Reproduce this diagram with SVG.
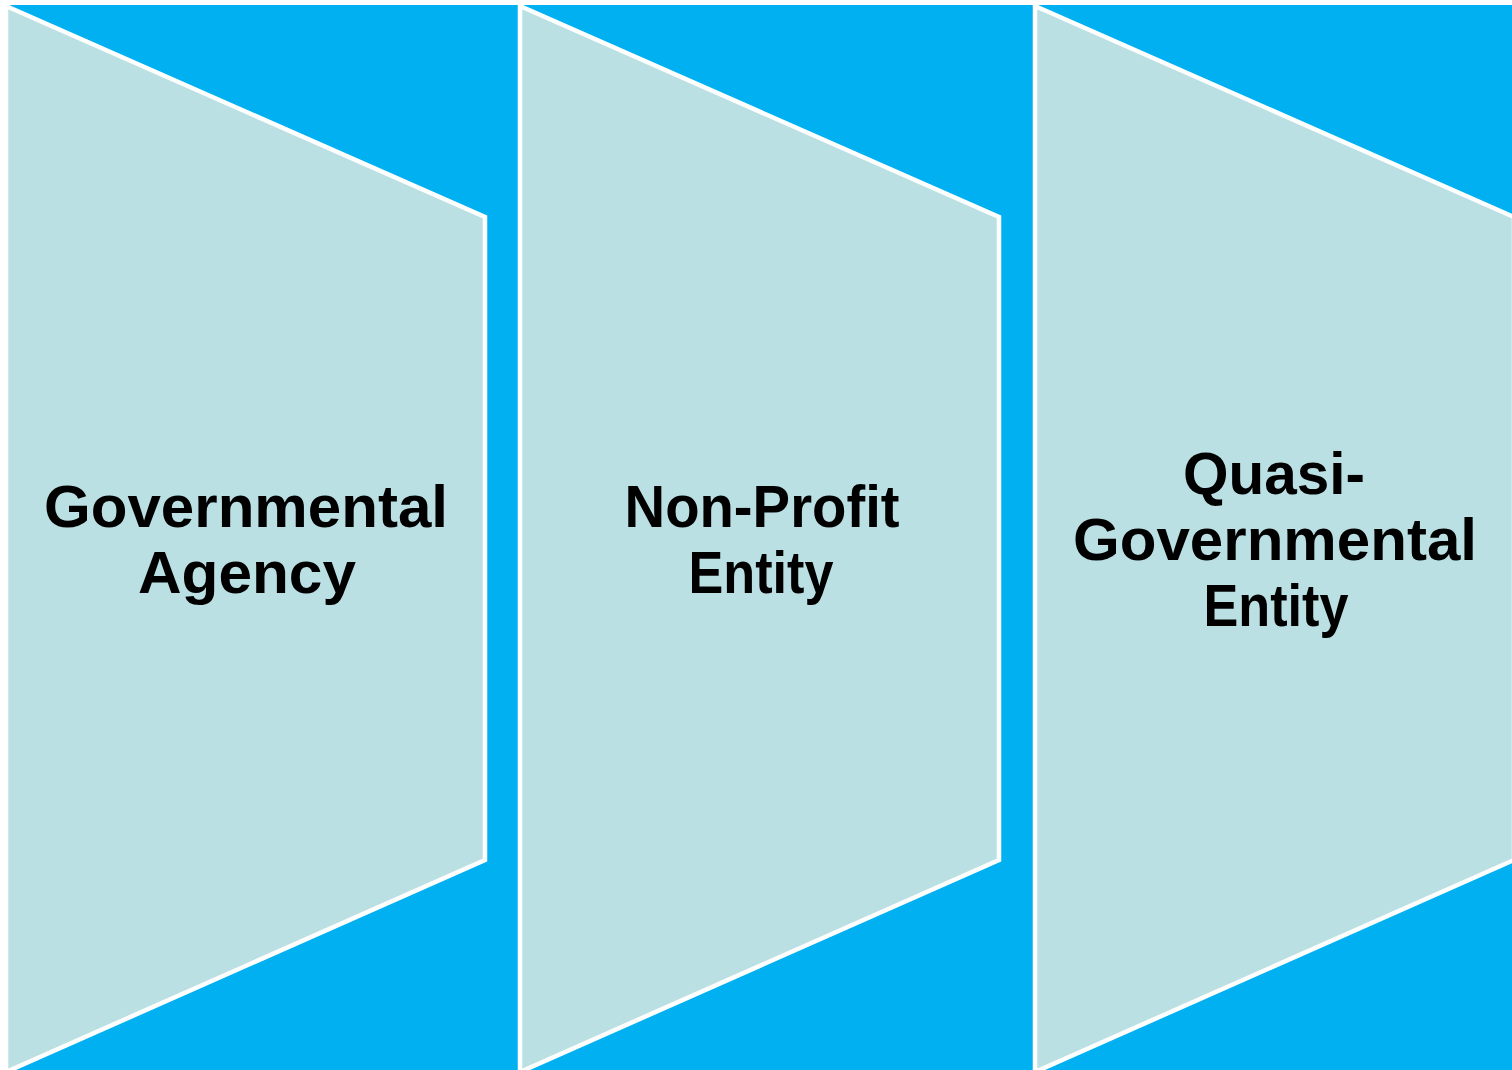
<svg xmlns="http://www.w3.org/2000/svg" width="1512" height="1070" viewBox="0 0 1512 1070">
  <style>
    .band { fill: #00B0F0; }
    .shape { fill: #BAE0E3; stroke: #FFFFFF; stroke-width: 4.5; stroke-linejoin: miter; }
    .label { font-family: "Liberation Sans", Arial, sans-serif; font-weight: 700; font-size: 60px; fill: #000000; text-anchor: middle; }
  </style>
  <rect x="0" y="0" width="1512" height="1070" fill="#FFFFFF"/>
  <rect class="band" x="6" y="5" width="1506" height="1065"/>

  <g id="governmental-agency">
    <polygon class="shape" points="6,6 485,217 485,860 6,1072"/>
    <text class="label" x="246" y="527" textLength="404" lengthAdjust="spacingAndGlyphs">Governmental</text>
    <text class="label" x="247" y="593" textLength="218" lengthAdjust="spacingAndGlyphs">Agency</text>
  </g>

  <g id="non-profit-entity">
    <polygon class="shape" points="520,6 999,217 999,860 520,1072"/>
    <text class="label" x="762" y="527" textLength="275" lengthAdjust="spacingAndGlyphs">Non-Profit</text>
    <text class="label" x="761" y="593" textLength="145" lengthAdjust="spacingAndGlyphs">Entity</text>
  </g>

  <g id="quasi-governmental-entity">
    <polygon class="shape" points="1035,6 1514,217 1514,860 1035,1072"/>
    <text class="label" x="1274" y="494" textLength="182" lengthAdjust="spacingAndGlyphs">Quasi-</text>
    <text class="label" x="1275" y="560" textLength="404" lengthAdjust="spacingAndGlyphs">Governmental</text>
    <text class="label" x="1276" y="626" textLength="145" lengthAdjust="spacingAndGlyphs">Entity</text>
  </g>
</svg>
